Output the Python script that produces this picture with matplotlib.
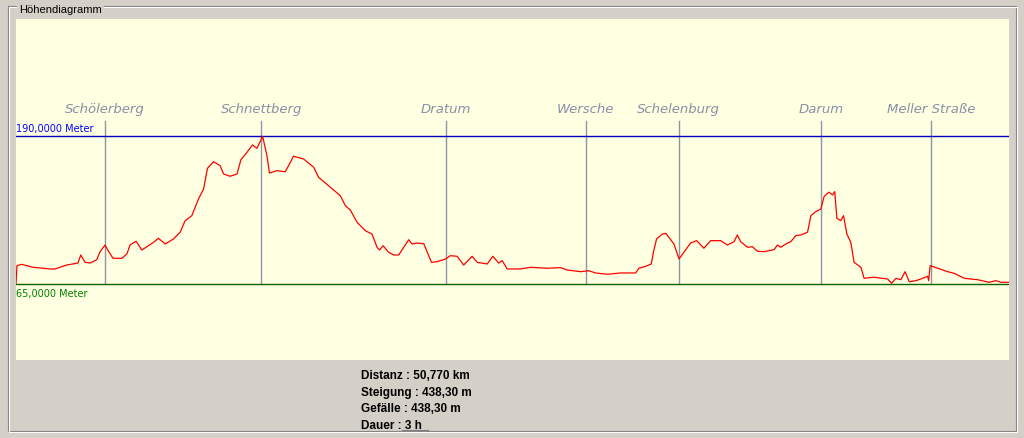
import matplotlib.pyplot as plt
from matplotlib.lines import Line2D

# Hoehenprofil: Distanz in km, Hoehe in Meter
distanz = [0.00, 0.05, 0.29, 0.87, 1.74, 2.00, 2.59, 3.17, 3.31, 3.53, 3.79, 4.13, 4.30, 4.55, 4.71,
           4.96, 5.41, 5.67, 5.83, 6.14, 6.43, 6.77, 7.03, 7.28, 7.63, 8.05, 8.39, 8.65, 8.99, 9.33,
           9.59, 9.79, 10.10, 10.44, 10.61, 10.95, 11.30, 11.50, 11.81, 12.09, 12.32, 12.61, 12.83,
           12.96, 13.34, 13.77, 14.19, 14.70, 15.22, 15.47, 16.07, 16.58, 16.84, 17.09, 17.44, 17.86,
           18.20, 18.46, 18.59, 18.77, 19.05, 19.31, 19.57, 19.82, 20.08, 20.25, 20.51, 20.85, 21.24,
           21.53, 21.96, 22.21, 22.55, 22.89, 23.32, 23.58, 24.09, 24.38, 24.68, 24.86, 25.11, 25.79,
           26.31, 27.16, 27.84, 28.18, 28.87, 29.29, 29.63, 30.23, 30.91, 31.68, 31.85, 32.19, 32.48,
           32.59, 32.75, 33.05, 33.22, 33.64, 33.90, 34.15, 34.49, 34.80, 35.17, 35.52, 36.03, 36.37,
           36.71, 36.88, 37.05, 37.40, 37.65, 37.91, 38.25, 38.76, 38.93, 39.10, 39.36, 39.61, 39.87,
           40.12, 40.47, 40.64, 40.89, 41.15, 41.32, 41.57, 41.75, 41.86, 41.97, 42.17, 42.31, 42.48,
           42.68, 42.85, 43.20, 43.36, 43.87, 44.56, 44.77, 44.99, 45.24, 45.46, 45.67, 46.01, 46.35,
           46.61, 46.66, 46.74, 47.12, 47.63, 47.97, 48.48, 49.17, 49.76, 50.10, 50.36, 50.77]
hoehe = [65.0, 80.5, 81.6, 79.1, 77.7, 77.7, 81.0, 82.7, 89.5, 83.3, 82.7, 85.5, 92.3, 97.9, 93.1,
         86.7, 86.7, 90.3, 97.9, 101.1, 93.7, 97.3, 100.2, 103.6, 98.8, 103.0, 108.7, 118.5, 122.7, 136.8,
         145.2, 162.7, 168.3, 164.9, 157.9, 156.0, 157.9, 170.0, 176.2, 182.4, 179.6, 189.7, 173.4,
         158.7, 160.7, 159.8, 172.9, 170.6, 163.6, 155.1, 146.7, 139.6, 131.1, 127.5, 117.1, 110.0,
         107.2, 96.0, 93.7, 97.3, 91.8, 89.5, 89.5, 96.0, 102.4, 98.8, 99.6, 99.0, 83.3,
         83.8, 86.1, 88.9, 88.4, 81.0, 88.4, 83.3, 81.9, 88.4, 82.7, 84.7, 77.7, 77.7,
         79.1, 78.3, 78.8, 76.8, 75.4, 76.2, 74.3, 73.2, 74.3, 74.3, 78.3, 79.9, 81.9,
         91.8, 103.0, 107.2, 107.8, 98.8, 86.1, 91.8, 99.6, 101.6, 95.2, 101.6, 101.6, 97.9,
         100.7, 106.4, 100.7, 96.0, 96.5, 92.6, 92.3, 94.0, 97.9, 96.0, 98.8, 100.7, 105.8,
         106.4, 108.7, 122.7, 126.1, 128.3, 139.1, 142.5, 140.2, 143.0, 120.5, 118.5, 122.7, 107.2,
         100.2, 83.3, 79.1, 69.8, 70.7, 69.2, 65.6, 69.8, 68.6, 75.4, 66.9, 67.8, 69.8,
         71.5, 67.8, 80.5, 78.3, 75.4, 74.0, 69.8, 68.6, 66.4, 67.8, 66.4, 66.4]

# Wegpunkte
orte = ['Schölerberg', 'Schnettberg', 'Dratum', 'Wersche', 'Schelenburg', 'Darum', 'Meller Straße']
orte_km = [4.55, 12.54, 21.96, 29.12, 33.88, 41.15, 46.78]

max_hoehe = 190.0
min_hoehe = 65.0
info = ['Distanz : 50,770 km', 'Steigung : 438,30 m', 'Gefälle : 438,30 m', 'Dauer : 3 h']

W, H = 1024, 439
fig = plt.figure(figsize=(W / 100, H / 100), dpi=100)
fig.patch.set_facecolor('#d4d0c8')

# Rahmen der Gruppe (geaetzte Linie)
for dx, c in [(0, '#808080'), (1, '#ffffff')]:
    x0, x1 = (8 + dx) / W, (1016 + dx) / W
    y0, y1 = 1 - (432 + dx) / H, 1 - (7 + dx) / H
    fig.add_artist(Line2D([x0, x0, x1, x1, x0], [y1, y0, y0, y1, y1], color=c, lw=0.8))
fig.text(19 / W, 1 - 10 / H, 'Höhendiagramm', fontsize=8, family='Liberation Sans',
         va='center', ha='left',
         bbox=dict(facecolor='#d4d0c8', edgecolor='none', pad=1.5))

ax = fig.add_axes([16 / W, 1 - 361 / H, 993 / W, 341 / H])
ax.set_facecolor('#ffffe1')
ax.set_xlim(0, 50.77)
ax.set_ylim(0.8, 288.8)
for s in ax.spines.values():
    s.set_visible(False)
ax.set_xticks([])
ax.set_yticks([])

# Wegpunkte als senkrechte Linien
for name, km in zip(orte, orte_km):
    ax.plot([km, km], [min_hoehe, 202.7], color='#8c96aa', lw=1.0)
    ax.text(km, 213.6, name, ha='center', va='center', fontsize=9.5, style='italic',
            color='#8890a8', family='DejaVu Sans')

ax.axhline(max_hoehe, color='#0000c0', lw=1.0)
ax.axhline(min_hoehe, color='#006400', lw=1.0)
ax.text(0.02, max_hoehe + 2.5, '190,0000 Meter', color='#0000ff', fontsize=7, va='bottom')
ax.text(0.02, min_hoehe - 3, '65,0000 Meter', color='#008000', fontsize=7, va='top')

ax.plot(distanz, hoehe, color='#ff0000', lw=0.9)

# Zusammenfassung unten
for i, t in enumerate(info):
    fig.text(361 / W, 1 - (376 + i * 16.7) / H, t, fontsize=8.5, weight='bold',
             family='Liberation Sans', va='center', ha='left')
fig.add_artist(Line2D([402 / W, 428 / W], [1 - 431 / H, 1 - 431 / H], color='#808080', lw=0.8))

fig.savefig('out.png', dpi=100, facecolor=fig.get_facecolor())
